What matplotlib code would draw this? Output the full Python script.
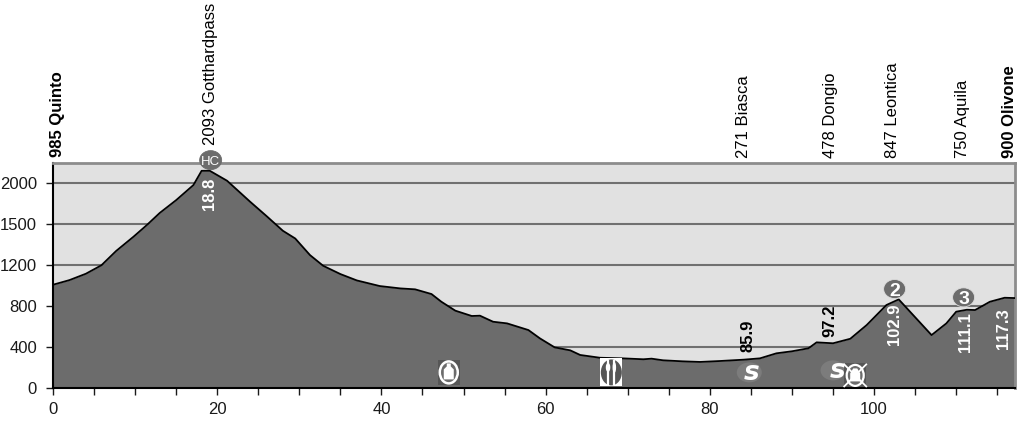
#!/usr/bin/env python3
"""
Stage profile Quinto - Olivone, elevation over distance
"""
import matplotlib
matplotlib.use('Agg')
import matplotlib.pyplot as plt
from matplotlib.patches import Ellipse, Rectangle, Polygon

plt.rcParams['font.family'] = ['Liberation Sans', 'DejaVu Sans']

# profile
km = [0, 2, 4, 5.9, 7.7, 9.8, 11.4, 13, 15, 17.1, 18.1, 19.1, 21.2, 24, 26, 28, 29.5, 31.3,
      32.9, 35, 37, 39.8, 42.3, 44.1, 46.1, 47.3, 49, 51, 52, 53.6, 55.3, 57.9, 59.3, 61.1,
      63, 64.2, 66.6, 69.4, 71.9, 72.9, 74.3, 76.7, 78.8, 81.2, 84.1, 86.1, 88.1, 90, 92,
      93, 95, 97.1, 99.1, 101.5, 103, 107, 108.8, 110, 111.3, 112.3, 114.1, 115.9, 117.1]
elevation = [1010, 1055, 1117, 1200, 1340, 1478, 1590, 1710, 1835, 1982, 2121, 2121, 2024,
             1820, 1680, 1536, 1461, 1299, 1195, 1114, 1052, 997, 974, 965, 919, 844, 757,
             705, 708, 649, 633, 568, 487, 399, 370, 325, 298, 292, 283, 289, 273, 263, 257,
             266, 279, 292, 341, 361, 390, 448, 439, 483, 617, 812, 867, 519, 633, 747, 766,
             763, 844, 883, 880]

y_ticks = [0, 400, 800, 1200, 1600, 2000]
y_tick_labels = ['0', '400', '800', '1200', '1500', '2000']
x_ticks = [0, 5, 10, 15, 20, 25, 30, 35, 40, 45, 50, 55, 60, 65, 70, 75, 80, 85, 90, 95, 100, 105, 110, 115]
x_tick_labels = ['0', '', '', '', '20', '', '', '', '40', '', '', '', '60', '', '', '', '80', '', '', '', '100', '', '', '']

place_km = [0.6, 19.2, 84.1, 94.65, 102.25, 110.75, 116.45]
place_y = [2260, 2370, 2245, 2245, 2245, 2245, 2245]
place_names = ['985 Quinto', '2093 Gotthardpass', '271 Biasca', '478 Dongio', '847 Leontica', '750 Aquila', '900 Olivone']
place_bold = [True, False, False, False, False, False, True]

# distance marks, white ones hang below their y, black ones stand on it
dist_labels = ['18.8', '85.9', '97.2', '102.9', '111.1', '117.3']
dist_km = [19.1, 84.7, 94.6, 102.5, 111.1, 115.7]
dist_y = [2059, 357, 500, 831, 744, 783]
dist_colors = ['white', 'black', 'black', 'white', 'white', 'white']

climb_km = [19.2, 102.5, 110.9]
climb_y = [2225, 968, 887]
climb_names = ['HC', '2', '3']

sprint_km = [84.8, 95.0]
sprint_y = [155, 175]
sprint_text_km = [85.1, 95.5]
feed_km = 48.2
food_km = 68.0
nofeed_km = 97.7
icon_y = 155

GREY = '#6c6c6c'
DARK = '#565656'
# size of one pixel in data units
PX = 1 / 8.21
PY = 1 / 0.1026

fig = plt.figure(figsize=(10.24, 4.23), dpi=100)
ax = fig.add_axes([53 / 1024, 1 - 388.3 / 423, (1014.5 - 53) / 1024, (388.3 - 162.7) / 423])
ax.set_facecolor('#e1e1e1')
ax.set_xlim(0, 117.1)
ax.set_ylim(0, 2200)

ax.set_axisbelow(True)
ax.yaxis.grid(True, color='#707070', linewidth=1.5)
ax.fill_between(km, elevation, 0, color=GREY, linewidth=0, zorder=2)
ax.plot(km, elevation, color='black', linewidth=1.3, zorder=3)

ax.set_xticks(x_ticks)
ax.set_xticklabels(x_tick_labels, fontsize=12)
ax.set_yticks(y_ticks)
ax.set_yticklabels(y_tick_labels, fontsize=12)
ax.tick_params(axis='x', length=5, width=1, pad=5, colors='#1a1a1a')
ax.tick_params(axis='y', length=5, width=1, pad=6.5, colors='#1a1a1a')

ax.spines['top'].set_color('#8c8c8c')
ax.spines['right'].set_color('#8c8c8c')
ax.spines['top'].set_linewidth(2)
ax.spines['right'].set_linewidth(2)
ax.spines['left'].set_linewidth(1.5)
ax.spines['bottom'].set_linewidth(1.5)

# place names above the plot
for x, y, name, bold in zip(place_km, place_y, place_names, place_bold):
    ax.text(x, y, name, rotation=90, ha='center', va='bottom', fontsize=12, clip_on=False,
            fontweight='bold' if bold else 'normal', color='black')

for x, y, label, color in zip(dist_km, dist_y, dist_labels, dist_colors):
    ax.text(x, y, label, rotation=90, ha='center', va='top' if color == 'white' else 'bottom',
            fontsize=12, fontweight='bold', color=color, zorder=5)

# climb category badges
for x, y, name in zip(climb_km, climb_y, climb_names):
    ax.add_patch(Ellipse((x, y), 22 * PX, 19 * PY, fc=GREY, ec='#dddddd' if name != 'HC' else GREY,
                         linewidth=0.6, zorder=5, clip_on=False))
    ax.text(x, y, name, ha='center', va='center_baseline', color='white', zorder=6,
            fontsize=9.5 if name == 'HC' else 14, fontweight='normal' if name == 'HC' else 'bold')

# sprint marks
for x, y, text_x in zip(sprint_km, sprint_y, sprint_text_km):
    ax.add_patch(Ellipse((x, y), 25 * PX, 20 * PY, color='#7c7c7c', linewidth=0, zorder=4))
    ax.text(text_x, y + 25, 's', ha='center', va='center_baseline', color='white', fontsize=19,
            fontweight='bold', style='italic', family='DejaVu Sans', zorder=5)

# feed zone bottle
ax.add_patch(Rectangle((feed_km - 11 * PX, icon_y - 13 * PY), 22 * PX, 25 * PY, color=DARK, linewidth=0, zorder=4))
ax.add_patch(Ellipse((feed_km, icon_y), 18 * PX, 22 * PY, fc=GREY, ec='white', linewidth=1.8, zorder=5))
ax.add_patch(Polygon([(feed_km - 5 * PX, icon_y - 7 * PY), (feed_km + 5 * PX, icon_y - 7 * PY),
                      (feed_km + 5 * PX, icon_y + 3 * PY), (feed_km + 2 * PX, icon_y + 6 * PY),
                      (feed_km + 2 * PX, icon_y + 9 * PY), (feed_km - 2 * PX, icon_y + 9 * PY),
                      (feed_km - 2 * PX, icon_y + 6 * PY), (feed_km - 5 * PX, icon_y + 3 * PY)],
                     color='white', linewidth=0, zorder=6))

# food stop
ax.add_patch(Rectangle((food_km - 11 * PX, icon_y - 14 * PY), 22 * PX, 28 * PY, color='white', linewidth=0, zorder=5))
ax.add_patch(Ellipse((food_km, icon_y), 21 * PX, 26 * PY, color=DARK, linewidth=0, zorder=6))
ax.plot([food_km - 3.3 * PX] * 2, [icon_y - 12 * PY, icon_y + 11 * PY], color='white', linewidth=1.6, zorder=7)
ax.plot([food_km + 3 * PX] * 2, [icon_y - 12 * PY, icon_y + 11 * PY], color='white', linewidth=1.6, zorder=7)
ax.add_patch(Ellipse((food_km - 3.3 * PX, icon_y + 5 * PY), 4.5 * PX, 9 * PY, color='white', linewidth=0, zorder=7))
ax.add_patch(Ellipse((food_km + 3 * PX, icon_y + 5 * PY), 3.5 * PX, 11 * PY, color='white', linewidth=0, zorder=7))

# end of feed zone, crossed out bottle
nofeed_y = icon_y - 3 * PY
ax.add_patch(Rectangle((nofeed_km - 11 * PX, nofeed_y - 12 * PY), 22 * PX, 24 * PY, color=DARK, linewidth=0, zorder=4))
ax.add_patch(Ellipse((nofeed_km, nofeed_y), 17 * PX, 21 * PY, fc=GREY, ec='white', linewidth=1.6, zorder=5))
ax.add_patch(Polygon([(nofeed_km - 5 * PX, nofeed_y - 6 * PY), (nofeed_km + 5 * PX, nofeed_y - 6 * PY),
                      (nofeed_km + 5 * PX, nofeed_y + 2 * PY), (nofeed_km + 2 * PX, nofeed_y + 7 * PY),
                      (nofeed_km - 2 * PX, nofeed_y + 7 * PY), (nofeed_km - 5 * PX, nofeed_y + 2 * PY)],
                     color='white', linewidth=0, zorder=6))
ax.plot([nofeed_km - 11 * PX, nofeed_km + 11 * PX], [nofeed_y - 11 * PY, nofeed_y + 11 * PY], color='white', linewidth=1.3, zorder=7)
ax.plot([nofeed_km - 11 * PX, nofeed_km + 11 * PX], [nofeed_y + 11 * PY, nofeed_y - 11 * PY], color='white', linewidth=1.3, zorder=7)

plt.savefig('out.png', dpi=100)
